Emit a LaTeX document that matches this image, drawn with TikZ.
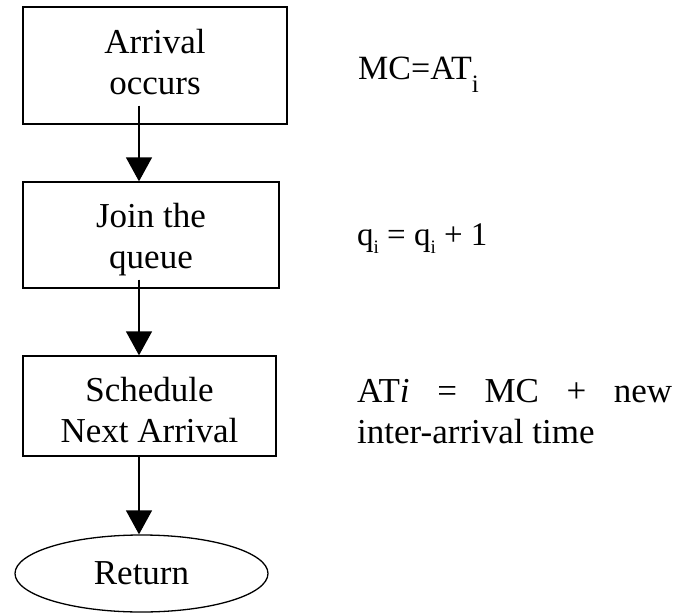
\documentclass[tikz,border=0pt]{standalone}
\usepackage{fontspec}
\setmainfont{Liberation Serif}
\usetikzlibrary{arrows.meta,shapes.geometric,calc}
\newcommand\lowsub[3]{\raisebox{-#1}{\fontsize{#2}{#2}\selectfont #3}}
\tikzset{
  bigtext/.style={font=\fontsize{35}{41}\selectfont},
  flowbox/.style={draw, line width=1.3pt, rectangle, inner sep=0pt, align=center, bigtext},
  endcap/.style={draw, line width=1.3pt, ellipse, inner sep=0pt, bigtext},
  flowarrow/.style={line width=1.3pt, -{Triangle[width=26pt,length=24pt]}},
  note/.style={anchor=base west, inner sep=0pt, bigtext},
}
\begin{document}
\begin{tikzpicture}[x=1pt,y=-1pt]
\path[use as bounding box, fill=white] (0,0) rectangle (680,613);

% flow chart boxes
\node[flowbox, minimum width=264pt, minimum height=117pt] (arrive) at (155,65.5)
  {\strut Arrival\\\strut occurs};
\node[flowbox, minimum width=256pt, minimum height=106pt] (queue) at (151,235)
  {\rule{0pt}{38.7pt}Join the\\\strut queue};
\node[flowbox, minimum width=253pt, minimum height=100pt] (sched) at (149.5,406)
  {\rule{0pt}{44.7pt}Schedule\\\strut Next Arrival};
\node[endcap, minimum width=253pt, minimum height=77pt] (ret) at (141.5,573.5) {Return};

% connectors
\coordinate (lane) at (139,0);
\draw[flowarrow] ($(arrive.south -| lane)+(0,-19)$) -- (queue.north -| lane);
\draw[flowarrow] ($(queue.south -| lane)+(0,-9)$) -- (sched.north -| lane);
\draw[flowarrow] (sched.south -| lane) -- (ret.north -| lane);

% annotations
\node[note, font=\fontsize{34}{41}\selectfont] (mc) at (358,79) {MC=AT\lowsub{13pt}{25}{i}};
\node[note, font=\fontsize{33}{41}\selectfont] (qi) at (357,245)
  {q\lowsub{8pt}{19}{i} = q\lowsub{8pt}{19}{i} + 1};
\node[note, text width=315pt, align=justify] (at) at (357,402)
  {AT\textit{i} = MC + new\linebreak inter-arrival time};
\end{tikzpicture}
\end{document}
